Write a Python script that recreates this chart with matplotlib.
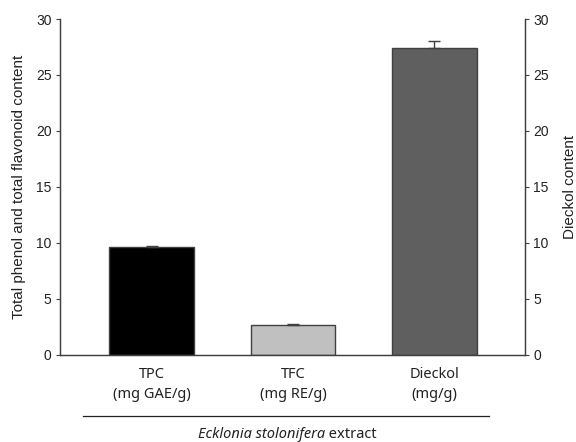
import numpy as np
import matplotlib.pyplot as plt
from matplotlib.lines import Line2D

categories = ['TPC\n(mg GAE/g)', 'TFC\n(mg RE/g)', 'Dieckol\n(mg/g)']
values = [9.6, 2.68, 27.45]
errors = [0.1, 0.1, 0.6]
colors = ['#000000', '#c0c0c0', '#5f5f5f']
yticks = [0, 5, 10, 15, 20, 25, 30]

plt.rcParams['font.family'] = ['Liberation Sans', 'DejaVu Sans']
edge = '#404040'
txt = '#222222'

fig = plt.figure(figsize=(5.76, 4.42), dpi=100)
ax = fig.add_axes([0.104, 0.197, 0.807, 0.760])

x = np.arange(len(values))
ax.bar(x, values, width=0.6, color=colors, edgecolor=edge, linewidth=1.0, zorder=2)
ax.errorbar(x, values, yerr=[np.zeros(len(errors)), errors], fmt='none',
            ecolor=edge, elinewidth=1.0, capsize=4, capthick=1.0, zorder=3)

ax.set_xlim(-0.65, 2.64)
ax.set_ylim(0, 30)
ax.set_yticks(yticks)
ax.set_xticks(x)
ax.set_xticklabels(categories, family=['Noto Sans', 'DejaVu Sans'], fontsize=10.5,
                   linespacing=1.4, color=txt)
ax.tick_params(axis='x', length=0, pad=9)
ax.tick_params(axis='y', labelsize=10, length=3, width=0.8, color=edge, pad=3,
               labelcolor=txt)
ax.set_ylabel('Total phenol and total flavonoid content', fontsize=11, labelpad=7,
              color=txt)

for s in ['left', 'bottom', 'right']:
    ax.spines[s].set_color(edge)
    ax.spines[s].set_linewidth(0.9)
ax.spines['top'].set_visible(False)

ax2 = ax.twinx()
ax2.set_ylim(0, 30)
ax2.set_yticks(yticks)
ax2.tick_params(axis='y', labelsize=10, length=3, width=0.8, color=edge, pad=3,
                labelcolor=txt)
ax2.set_ylabel('Dieckol content', fontsize=11, labelpad=10, color=txt)
for s in ['left', 'bottom', 'right']:
    ax2.spines[s].set_color(edge)
    ax2.spines[s].set_linewidth(0.9)
ax2.spines['top'].set_visible(False)

line = Line2D([0.049, 0.923], [-0.182, -0.182], transform=ax.transAxes,
              color='#202020', linewidth=0.9, clip_on=False)
ax.add_line(line)
ax.text(0.57, -0.237, 'Ecklonia stolonifera', transform=ax.transAxes,
        ha='right', va='center', fontsize=10.5, style='italic', color=txt,
        family=['Noto Sans', 'DejaVu Sans'])
ax.text(0.57, -0.237, ' extract', transform=ax.transAxes,
        ha='left', va='center', fontsize=10.5, color=txt,
        family=['Noto Sans', 'DejaVu Sans'])

fig.savefig('out.png', dpi=100)
